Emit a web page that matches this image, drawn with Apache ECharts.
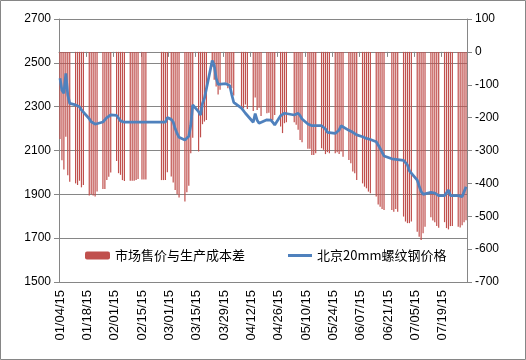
<!DOCTYPE html>
<html>
<head>
<meta charset="utf-8">
<script src="https://cdn.jsdelivr.net/npm/echarts@6/dist/echarts.min.js"></script>
<style>
html,body{margin:0;padding:0;background:#fff;}
#c{width:526px;height:360px;}
</style>
</head>
<body>
<div id="c"></div>
<script>
// Axis tick labels (every 14 days)
const tickLabels = ['01/04/15','01/18/15','02/01/15','02/15/15','03/01/15','03/15/15','03/29/15','04/12/15','04/26/15','05/10/15','05/24/15','06/07/15','06/21/15','07/05/15','07/19/15'];

// Trading days
const tradeDates = ['01/04','01/05','01/06','01/07','01/08','01/09','01/12','01/13','01/14','01/15','01/16','01/19','01/20','01/21','01/22','01/23','01/26','01/27','01/28','01/29','01/30',
'02/02','02/03','02/04','02/05','02/06','02/09','02/10','02/11','02/12','02/13','02/15','02/16','02/17','02/25','02/26','02/27','02/28',
'03/02','03/03','03/04','03/05','03/06','03/09','03/10','03/11','03/12','03/13','03/16','03/17','03/18','03/19','03/20','03/23','03/24','03/25','03/26','03/27','03/30','03/31',
'04/01','04/02','04/03','04/07','04/08','04/09','04/10','04/13','04/14','04/15','04/16','04/17','04/20','04/21','04/22','04/23','04/24','04/27','04/28','04/29','04/30',
'05/04','05/05','05/06','05/07','05/08','05/11','05/12','05/13','05/14','05/15','05/18','05/19','05/20','05/21','05/22','05/25','05/26','05/27','05/28','05/29',
'06/01','06/02','06/03','06/04','06/05','06/08','06/09','06/10','06/11','06/12','06/15','06/16','06/17','06/18','06/19','06/23','06/24','06/25','06/26','06/29','06/30',
'07/01','07/02','07/03','07/06','07/07','07/08','07/09','07/10','07/13','07/14','07/15','07/16','07/17','07/20','07/21','07/22','07/23','07/24','07/27','07/28','07/29','07/30','07/31'];

// 市场售价与生产成本差 (right axis)
const spread = [-265,-330,-358,-258,-375,-395,-400,-405,-392,-412,-405,-437,-433,-437,-440,-425,-417,-417,-390,-380,-367,
-332,-369,-374,-390,-393,-392,-392,-392,-390,-387,-388,-388,-388,-390,-390,-390,-366,
-379,-397,-420,-433,-443,-455,-427,-407,-308,-261,-303,-260,-220,-212,-207,-45,-85,-105,-130,-115,-93,-111,
-96,-111,-133,-167,-172,-160,-174,-180,-139,-177,-170,-195,-187,-185,-207,-207,-192,-227,-247,-217,-214,
-214,-222,-237,-268,-275,-295,-295,-314,-314,-308,-293,-298,-311,-305,-308,-308,-305,-311,-303,-319,
-329,-339,-364,-369,-390,-400,-410,-415,-425,-430,-440,-464,-471,-478,-481,-481,-486,-478,-486,-501,-516,
-521,-521,-516,-547,-562,-572,-552,-532,-503,-513,-518,-530,-535,-518,-536,-540,-530,-530,-532,-534,-527,-518,-512];

// 北京20mm螺纹钢价格 (left axis)
const price = [2430,2375,2361,2452,2353,2315,2308,2305,2300,2285,2277,2245,2231,2225,2220,2219,2230,2239,2250,2259,2262,
2260,2254,2235,2229,2229,2229,2229,2229,2229,2229,2229,2229,2229,2229,2229,2229,2250,
2242,2230,2200,2178,2160,2148,2143,2165,2215,2308,2277,2262,2315,2338,2338,2510,2490,2430,2402,2400,2405,2411,
2396,2355,2320,2293,2285,2270,2262,2229,2268,2238,2224,2216,2240,2244,2239,2229,2216,2259,2262,2270,2268,
2262,2265,2270,2259,2244,2221,2216,2213,2213,2213,2213,2213,2198,2183,2178,2178,2178,2194,2213,2208,
2192,2189,2183,2178,2171,2163,2158,2155,2152,2150,2140,2133,2110,2092,2075,2062,2060,2060,2059,2055,2052,
2034,2007,2000,1965,1938,1913,1900,1903,1909,1909,1906,1900,1894,1894,1894,1920,1894,1894,1894,1889,1889,1895,1935];

const barName = '市场售价与生产成本差';
const lineName = '北京20mm螺纹钢价格';

// calendar categories 2015-01-04 .. 2015-07-31
const days = [];
for (let t = Date.UTC(2015,0,4); t <= Date.UTC(2015,6,31); t += 86400000) {
  const d = new Date(t);
  const mm = String(d.getUTCMonth()+1).padStart(2,'0');
  const dd = String(d.getUTCDate()).padStart(2,'0');
  days.push(mm + '/' + dd + '/15');
}
const barData = days.map(() => null);
const lineData = days.map(() => null);
tradeDates.forEach((md, i) => {
  const idx = days.indexOf(md + '/15');
  if (idx >= 0) { barData[idx] = spread[i]; lineData[idx] = price[i]; }
});
const showTick = (i, v) => tickLabels.indexOf(v) >= 0;

const gray = '#868686';
const font = 'Liberation Sans, Arial, sans-serif';
const chart = echarts.init(document.getElementById('c'), null, {renderer: 'canvas'});
chart.setOption({
  animation: false,
  backgroundColor: '#fff',
  textStyle: {fontFamily: font},
  graphic: [{
    type: 'rect', shape: {x: 0.5, y: 0.5, width: 525, height: 359},
    style: {fill: 'none', stroke: gray, lineWidth: 1}, silent: true
  }],
  grid: {left: 59, right: 59, top: 19, bottom: 78},
  legend: [{
    data: [barName], left: 80, top: 244, itemWidth: 25, itemHeight: 8, itemGap: 10,
    textStyle: {fontSize: 13, color: '#000', fontFamily: 'Noto Sans CJK SC'}
  }, {
    data: [{name: lineName, icon: 'rect'}], left: 283, top: 244, itemWidth: 24, itemHeight: 3,
    textStyle: {fontSize: 13, color: '#000', fontFamily: 'Noto Sans CJK SC'}
  }],
  xAxis: {
    type: 'category', data: days, boundaryGap: true,
    axisLine: {lineStyle: {color: gray}},
    axisTick: {show: true, interval: showTick, length: 5, lineStyle: {color: gray}},
    axisLabel: {interval: showTick, rotate: 90, fontSize: 13, color: '#000', margin: 8, fontFamily: font},
    splitLine: {show: false}
  },
  yAxis: [{
    type: 'value', min: 1500, max: 2700, interval: 200, position: 'left',
    axisLine: {show: true, lineStyle: {color: gray}},
    axisTick: {show: true, length: 5, lineStyle: {color: gray}},
    axisLabel: {fontSize: 12, color: '#000', margin: 8, fontFamily: font, formatter: v => String(v)},
    splitLine: {show: true, lineStyle: {color: gray, width: 1}}
  }, {
    type: 'value', min: -700, max: 100, interval: 100, position: 'right',
    axisLine: {show: true, lineStyle: {color: gray}},
    axisTick: {show: true, length: 5, lineStyle: {color: gray}},
    axisLabel: {fontSize: 12, color: '#000', margin: 8, fontFamily: font, formatter: v => String(v)},
    splitLine: {show: false}
  }],
  series: [{
    name: barName, type: 'bar', yAxisIndex: 1, data: barData,
    barWidth: 1.2, itemStyle: {color: '#C0504D'}, z: 2
  }, {
    name: lineName, type: 'line', yAxisIndex: 0, data: lineData,
    connectNulls: true, symbol: 'none', showSymbol: false,
    lineStyle: {color: '#4F81BD', width: 2.75}, itemStyle: {color: '#4F81BD'}, z: 3
  }]
});
</script>
</body>
</html>
